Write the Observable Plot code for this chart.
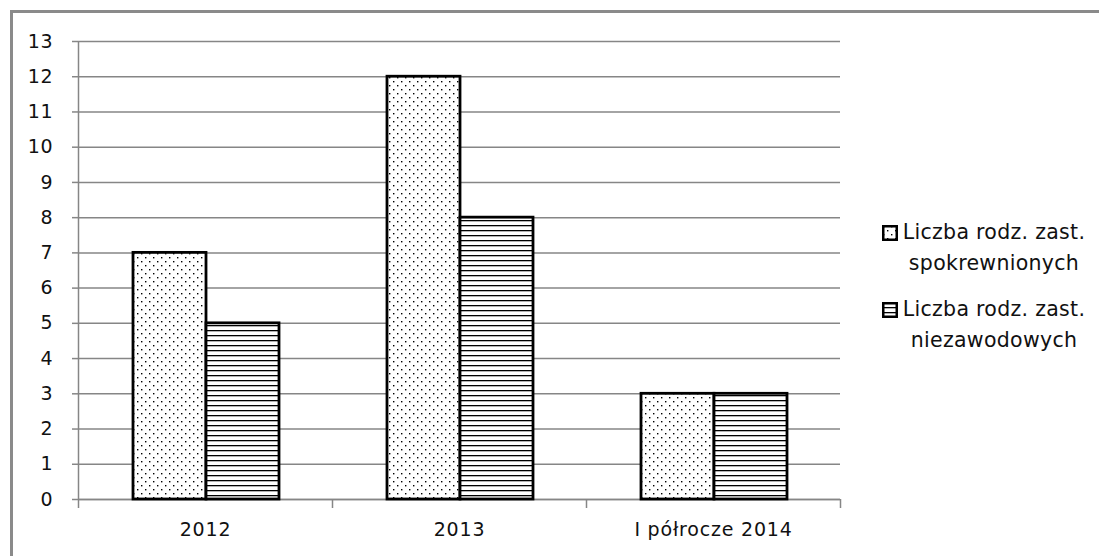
<!DOCTYPE html>
<html>
<head>
<meta charset="utf-8">
<script src="https://cdn.jsdelivr.net/npm/d3@7"></script>
<script src="https://cdn.jsdelivr.net/npm/@observablehq/plot@0.6"></script>
<style>
  html, body { margin: 0; padding: 0; background: #fff; }
  #wrap { position: relative; width: 1099px; height: 556px; overflow: hidden; font-family: "DejaVu Sans", sans-serif; }
  #frame { position: absolute; left: 10px; top: 10px; right: -10px; bottom: -10px; border-top: 3px solid #8a8a8a; border-left: 3px solid #8a8a8a; box-sizing: border-box; }
  #chart { position: absolute; left: 0; top: 0; }
  .leg { position: absolute; left: 880px; width: 215px; font-size: 20.5px; color: #111; }
  .leg svg { position: absolute; left: 2px; }
  .leg .t { position: absolute; left: 14px; width: 200px; text-align: center; line-height: 31px; letter-spacing: 0.3px; }
</style>
</head>
<body>
<svg width="0" height="0" style="position:absolute">
  <defs>
    <pattern id="dots" patternUnits="userSpaceOnUse" width="8" height="8">
      <rect width="8" height="8" fill="#fff"/>
      <rect x="1" y="1" width="1.4" height="1.4" fill="#000"/>
      <rect x="5" y="5" width="1.4" height="1.4" fill="#000"/>
    </pattern>
    <pattern id="stripes" patternUnits="userSpaceOnUse" width="10" height="5">
      <rect width="10" height="5" fill="#fff"/>
      <rect x="0" y="0" width="10" height="1.3" fill="#000"/>
    </pattern>
  </defs>
</svg>
<div id="wrap">
  <div id="frame"></div>
  <div id="chart"></div>
</div>
<script>
const categories = ["2012", "2013", "I półrocze 2014"];
const spokrewnionych = [7, 12, 3];
const niezawodowych = [5, 8, 3];
const seriesNames = [["Liczba rodz. zast.", "spokrewnionych"], ["Liczba rodz. zast.", "niezawodowych"]];
const seriesFills = ["url(#dots)", "url(#stripes)"];
const yTicks = [0, 1, 2, 3, 4, 5, 6, 7, 8, 9, 10, 11, 12, 13];

const rows1 = categories.map((c, i) => ({cat: c, x1: i, x2: i + 1, value: spokrewnionych[i]}));
const rows2 = categories.map((c, i) => ({cat: c, x1: i, x2: i + 1, value: niezawodowych[i]}));
const boundaries = categories.map((c, i) => i).concat([categories.length]);
const centers = categories.map((c, i) => i + 0.5);

const grid = "#868686";
const fs = 19;

const plot = Plot.plot({
  width: 1099,
  height: 556,
  marginLeft: 78,
  marginRight: 259,
  marginTop: 41,
  marginBottom: 57,
  style: {fontFamily: "DejaVu Sans, sans-serif", fontSize: fs + "px", color: "#111", background: "transparent", letterSpacing: "0.8px"},
  x: {domain: [0, categories.length], axis: null, label: null},
  y: {domain: [0, 13], axis: null, label: null},
  marks: [
    Plot.gridY(yTicks, {stroke: grid, strokeOpacity: 1, strokeWidth: 1.5}),
    Plot.axisY(yTicks, {tickSize: 6, tickPadding: 19, stroke: grid, strokeWidth: 1.5, fill: "#111", fontSize: fs, label: null, tickFormat: d => String(d)}),
    Plot.ruleX([0], {stroke: grid, strokeWidth: 1.5}),
    Plot.axisX(boundaries, {tickSize: 9, stroke: grid, strokeWidth: 1.5, label: null, tickFormat: () => ""}),
    Plot.axisX(centers, {tickSize: 0, tickPadding: 23, fill: "#111", fontSize: fs, label: null, tickFormat: d => categories[Math.floor(d)]}),
    Plot.ruleY([0], {stroke: grid, strokeWidth: 1.5}),
    Plot.rectY(rows1, {x1: "x1", x2: "x2", y: "value", fill: seriesFills[0], stroke: "#000", strokeWidth: 2.8, insetLeft: 55, insetRight: 126}),
    Plot.rectY(rows2, {x1: "x1", x2: "x2", y: "value", fill: seriesFills[1], stroke: "#000", strokeWidth: 2.8, insetLeft: 128, insetRight: 53})
  ]
});
document.getElementById("chart").appendChild(plot);

// legend
const wrap = document.getElementById("wrap");
const legTops = [217, 294];
seriesNames.forEach((lines, k) => {
  const d = document.createElement("div");
  d.className = "leg";
  d.style.top = legTops[k] + "px";
  d.innerHTML = `<svg width="16" height="16" style="top:8px"><rect x="1.25" y="1.25" width="13.5" height="13.5" fill="${seriesFills[k]}" stroke="#000" stroke-width="2.5"/></svg>` +
    `<div class="t">${lines[0]}<br>${lines[1]}</div>`;
  wrap.appendChild(d);
});
</script>
</body>
</html>
